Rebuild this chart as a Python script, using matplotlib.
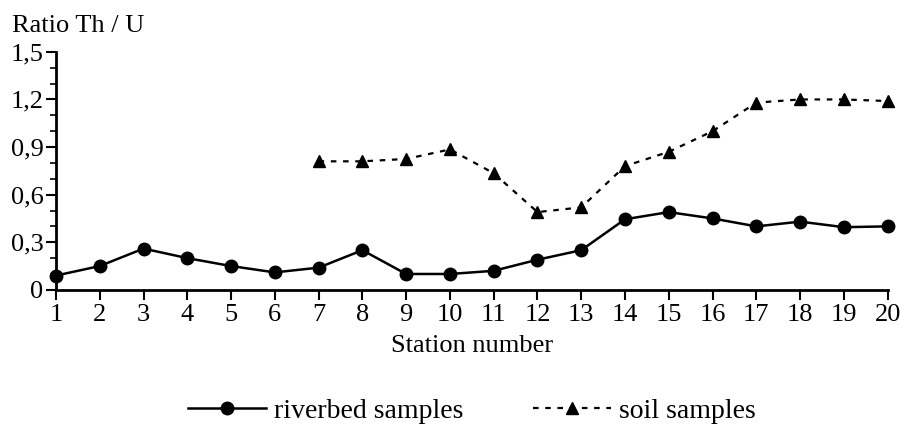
import numpy as np
import matplotlib.pyplot as plt
from matplotlib.ticker import MultipleLocator, FuncFormatter

plt.rcParams['font.family'] = ['Liberation Serif', 'DejaVu Serif']

# Station numbers and Th/U ratios
stations = list(range(1, 21))
riverbed = [0.09, 0.15, 0.26, 0.20, 0.15, 0.11, 0.14, 0.25, 0.10, 0.10,
            0.12, 0.19, 0.25, 0.445, 0.49, 0.45, 0.40, 0.43, 0.395, 0.40]
soil_stations = list(range(7, 21))
soil = [0.81, 0.81, 0.825, 0.885, 0.735, 0.49, 0.52, 0.78, 0.87, 1.00,
        1.18, 1.20, 1.20, 1.19]

fig = plt.figure(figsize=(9.07, 4.25), dpi=100)
ax = fig.add_axes([0.0617, 0.318, 0.917, 0.56])

ax.plot(stations, riverbed, color='black', lw=1.8, marker='o', ms=9,
        label='riverbed samples', clip_on=False, zorder=3)
ax.plot(soil_stations, soil, color='black', lw=1.6, ls=(0, (2.5, 3)),
        marker='^', ms=8, label='soil samples', clip_on=False, zorder=3)

ax.set_xlim(1, 20)
ax.set_ylim(0, 1.5)
ax.set_xticks(stations)
ax.yaxis.set_major_locator(MultipleLocator(0.3))
ax.yaxis.set_minor_locator(MultipleLocator(0.1))
ax.yaxis.set_major_formatter(FuncFormatter(
    lambda v, p: '0' if abs(v) < 1e-9 else ('%.1f' % v).replace('.', ',')))

for s in ['top', 'right']:
    ax.spines[s].set_visible(False)
for s in ['left', 'bottom']:
    ax.spines[s].set_linewidth(2)
ax.tick_params(axis='both', which='major', labelsize=19, width=1.5, length=7,
               direction='out')
ax.tick_params(axis='y', which='minor', width=1.2, length=4)
ax.tick_params(axis='x', pad=3)
ax.tick_params(axis='y', pad=2)

ax.set_xlabel('Station number', fontsize=19, labelpad=7)
fig.text(0.013, 0.925, 'Ratio Th / U', fontsize=19)

ax.legend(loc='upper center', bbox_to_anchor=(0.5, -0.35), ncol=2,
          frameon=False, fontsize=20, handlelength=2.8, columnspacing=2.5,
          handletextpad=0.3)

fig.savefig('out.png', dpi=100)
